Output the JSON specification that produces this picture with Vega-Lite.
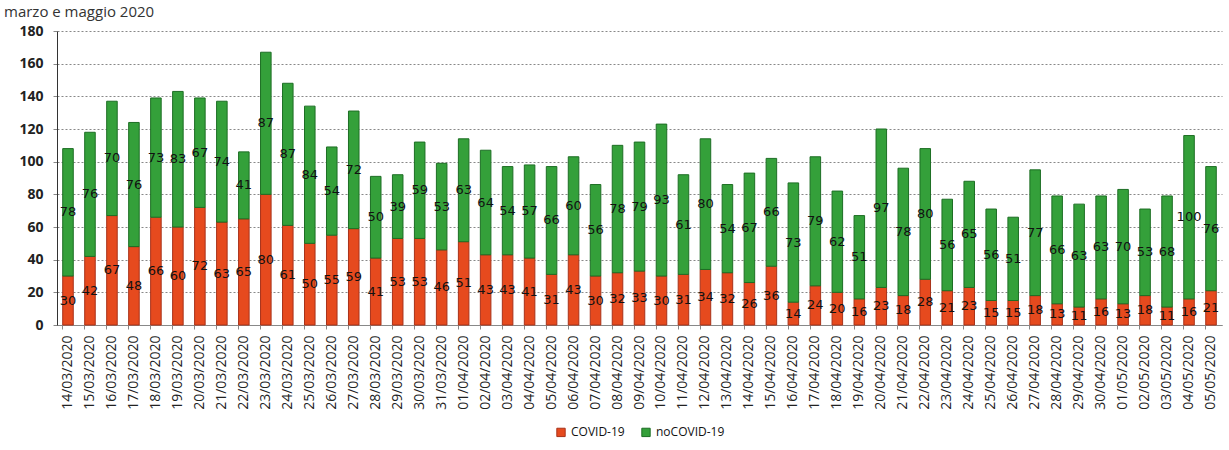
{
  "$schema": "https://vega.github.io/schema/vega-lite/v6.json",
  "width": 1165,
  "height": 294,
  "autosize": "none",
  "padding": {"left": 57, "top": 31, "right": 7, "bottom": 125},
  "background": "white",
  "title": {
    "text": "marzo e maggio 2020",
    "anchor": "start",
    "frame": "group",
    "fontSize": 15,
    "font": "Open Sans",
    "fontWeight": "normal",
    "color": "#333333",
    "baseline": "alphabetic",
    "dx": -53,
    "offset": -8
  },
  "data": {
    "values": [
      {"date": "14/03/2020", "COVID-19": 30, "noCOVID-19": 78},
      {"date": "15/03/2020", "COVID-19": 42, "noCOVID-19": 76},
      {"date": "16/03/2020", "COVID-19": 67, "noCOVID-19": 70},
      {"date": "17/03/2020", "COVID-19": 48, "noCOVID-19": 76},
      {"date": "18/03/2020", "COVID-19": 66, "noCOVID-19": 73},
      {"date": "19/03/2020", "COVID-19": 60, "noCOVID-19": 83},
      {"date": "20/03/2020", "COVID-19": 72, "noCOVID-19": 67},
      {"date": "21/03/2020", "COVID-19": 63, "noCOVID-19": 74},
      {"date": "22/03/2020", "COVID-19": 65, "noCOVID-19": 41},
      {"date": "23/03/2020", "COVID-19": 80, "noCOVID-19": 87},
      {"date": "24/03/2020", "COVID-19": 61, "noCOVID-19": 87},
      {"date": "25/03/2020", "COVID-19": 50, "noCOVID-19": 84},
      {"date": "26/03/2020", "COVID-19": 55, "noCOVID-19": 54},
      {"date": "27/03/2020", "COVID-19": 59, "noCOVID-19": 72},
      {"date": "28/03/2020", "COVID-19": 41, "noCOVID-19": 50},
      {"date": "29/03/2020", "COVID-19": 53, "noCOVID-19": 39},
      {"date": "30/03/2020", "COVID-19": 53, "noCOVID-19": 59},
      {"date": "31/03/2020", "COVID-19": 46, "noCOVID-19": 53},
      {"date": "01/04/2020", "COVID-19": 51, "noCOVID-19": 63},
      {"date": "02/04/2020", "COVID-19": 43, "noCOVID-19": 64},
      {"date": "03/04/2020", "COVID-19": 43, "noCOVID-19": 54},
      {"date": "04/04/2020", "COVID-19": 41, "noCOVID-19": 57},
      {"date": "05/04/2020", "COVID-19": 31, "noCOVID-19": 66},
      {"date": "06/04/2020", "COVID-19": 43, "noCOVID-19": 60},
      {"date": "07/04/2020", "COVID-19": 30, "noCOVID-19": 56},
      {"date": "08/04/2020", "COVID-19": 32, "noCOVID-19": 78},
      {"date": "09/04/2020", "COVID-19": 33, "noCOVID-19": 79},
      {"date": "10/04/2020", "COVID-19": 30, "noCOVID-19": 93},
      {"date": "11/04/2020", "COVID-19": 31, "noCOVID-19": 61},
      {"date": "12/04/2020", "COVID-19": 34, "noCOVID-19": 80},
      {"date": "13/04/2020", "COVID-19": 32, "noCOVID-19": 54},
      {"date": "14/04/2020", "COVID-19": 26, "noCOVID-19": 67},
      {"date": "15/04/2020", "COVID-19": 36, "noCOVID-19": 66},
      {"date": "16/04/2020", "COVID-19": 14, "noCOVID-19": 73},
      {"date": "17/04/2020", "COVID-19": 24, "noCOVID-19": 79},
      {"date": "18/04/2020", "COVID-19": 20, "noCOVID-19": 62},
      {"date": "19/04/2020", "COVID-19": 16, "noCOVID-19": 51},
      {"date": "20/04/2020", "COVID-19": 23, "noCOVID-19": 97},
      {"date": "21/04/2020", "COVID-19": 18, "noCOVID-19": 78},
      {"date": "22/04/2020", "COVID-19": 28, "noCOVID-19": 80},
      {"date": "23/04/2020", "COVID-19": 21, "noCOVID-19": 56},
      {"date": "24/04/2020", "COVID-19": 23, "noCOVID-19": 65},
      {"date": "25/04/2020", "COVID-19": 15, "noCOVID-19": 56},
      {"date": "26/04/2020", "COVID-19": 15, "noCOVID-19": 51},
      {"date": "27/04/2020", "COVID-19": 18, "noCOVID-19": 77},
      {"date": "28/04/2020", "COVID-19": 13, "noCOVID-19": 66},
      {"date": "29/04/2020", "COVID-19": 11, "noCOVID-19": 63},
      {"date": "30/04/2020", "COVID-19": 16, "noCOVID-19": 63},
      {"date": "01/05/2020", "COVID-19": 13, "noCOVID-19": 70},
      {"date": "02/05/2020", "COVID-19": 18, "noCOVID-19": 53},
      {"date": "03/05/2020", "COVID-19": 11, "noCOVID-19": 68},
      {"date": "04/05/2020", "COVID-19": 16, "noCOVID-19": 100},
      {"date": "05/05/2020", "COVID-19": 21, "noCOVID-19": 76}
    ]
  },
  "transform": [
    {"fold": ["COVID-19", "noCOVID-19"], "as": ["categoria", "valore"]},
    {"stack": "valore", "groupby": ["date"], "sort": [{"field": "categoria", "order": "ascending"}], "as": ["v0", "v1"]}
  ],
  "config": {
    "view": {"stroke": null},
    "font": "Open Sans",
    "legend": {"layout": {"bottom": {"anchor": "middle"}}},
    "axisY": {
      "values": [0, 20, 40, 60, 80, 100, 120, 140, 160, 180],
      "labelOverlap": false,
      "labelFontSize": 14,
      "labelFontWeight": "bold",
      "labelColor": "#222222",
      "labelPadding": 10,
      "domainColor": "#333333",
      "tickColor": "#888888",
      "tickSize": 4,
      "gridColor": "#888888",
      "gridDash": [2, 2],
      "gridWidth": 1
    }
  },
  "layer": [
    {
      "mark": {"type": "bar", "strokeWidth": 1},
      "encoding": {
        "x": {
          "field": "date",
          "type": "ordinal",
          "sort": null,
          "title": null,
          "scale": {"paddingInner": 0.52, "paddingOuter": 0.26},
          "axis": {
            "labelAngle": -90,
            "labelFontSize": 14,
            "labelColor": "#222222",
            "labelPadding": 6,
            "domainColor": "#888888",
            "tickColor": "#888888",
            "tickSize": 4,
            "bandPosition": 0
          }
        },
        "y": {
          "field": "v1",
          "type": "quantitative",
          "title": null,
          "scale": {"domain": [0, 180], "nice": false},
          "axis": {"values": [0, 20, 40, 60, 80, 100, 120, 140, 160, 180], "labelOverlap": false}
        },
        "y2": {"field": "v0"},
        "color": {
          "field": "categoria",
          "type": "nominal",
          "title": null,
          "scale": {"domain": ["COVID-19", "noCOVID-19"], "range": ["#e64a1e", "#34a03a"]},
          "legend": {
            "orient": "bottom",
            "direction": "horizontal",
            "symbolType": "square",
            "symbolSize": 70,
            "symbolStrokeWidth": 1,
            "labelFontSize": 12,
            "labelColor": "#111111",
            "columnPadding": 14,
            "offset": 16
          }
        },
        "stroke": {
          "field": "categoria",
          "type": "nominal",
          "scale": {"domain": ["COVID-19", "noCOVID-19"], "range": ["#a8321a", "#1d6e24"]},
          "legend": null
        }
      }
    },
    {
      "transform": [
        {"fold": ["v0", "v1"], "as": ["k", "pos"]},
        {"aggregate": [{"op": "mean", "field": "pos", "as": "mid"}], "groupby": ["date", "categoria", "valore"]}
      ],
      "mark": {"type": "text", "font": "DejaVu Sans", "fontSize": 13, "color": "#111111", "baseline": "middle", "align": "center"},
      "encoding": {
        "x": {"field": "date", "type": "ordinal", "sort": null},
        "y": {"field": "mid", "type": "quantitative", "axis": {"values": [0, 20, 40, 60, 80, 100, 120, 140, 160, 180], "labelOverlap": false}},
        "text": {"field": "valore", "type": "quantitative"}
      }
    }
  ]
}
